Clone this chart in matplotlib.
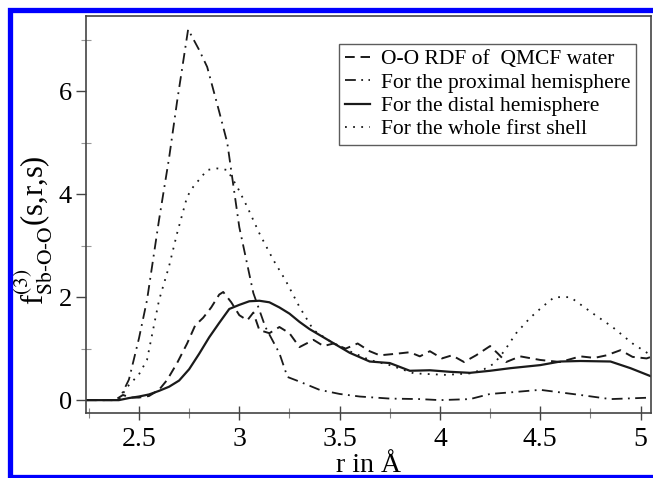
import numpy as np
import matplotlib
matplotlib.use("Agg")
import matplotlib.pyplot as plt
from matplotlib.lines import Line2D

plt.rcParams["font.family"] = ["Liberation Serif", "DejaVu Serif"]
plt.rcParams["mathtext.fontset"] = "stix"

# O-O RDF of QMCF water (dashed)
r_rdf = [2.24, 2.38, 2.42, 2.46, 2.50, 2.55, 2.60, 2.64, 2.69, 2.74, 2.78, 2.82, 2.86,
         2.90, 2.92, 2.96, 3.00, 3.04, 3.07, 3.10, 3.15, 3.20, 3.25, 3.30, 3.37, 3.42,
         3.47, 3.53, 3.59, 3.65, 3.70, 3.78, 3.85, 3.90, 3.95, 4.01, 4.06, 4.12, 4.18,
         4.25, 4.29, 4.33, 4.40, 4.50, 4.60, 4.70, 4.77, 4.83, 4.90, 4.96, 5.03, 5.06]
g_rdf = [0.0, 0.0, 0.1, 0.05, 0.05, 0.08, 0.2, 0.39, 0.72, 1.1, 1.45, 1.6, 1.8,
         2.05, 2.1, 1.9, 1.65, 1.55, 1.7, 1.36, 1.3, 1.42, 1.3, 1.03, 1.17, 1.05,
         1.1, 1.0, 1.1, 0.95, 0.87, 0.9, 0.93, 0.85, 0.95, 0.81, 0.87, 0.74, 0.87,
         1.05, 0.9, 0.74, 0.85, 0.78, 0.74, 0.85, 0.82, 0.87, 0.97, 0.84, 0.81, 0.85]

# proximal hemisphere (dash-dot)
r_prox = [2.24, 2.40, 2.45, 2.50, 2.54, 2.60, 2.65, 2.69, 2.745, 2.80, 2.84, 2.90,
          2.94, 3.00, 3.07, 3.13, 3.20, 3.24, 3.30, 3.40, 3.50, 3.60, 3.75, 3.90,
          4.00, 4.15, 4.25, 4.35, 4.50, 4.60, 4.70, 4.85, 5.06]
f_prox = [0.0, 0.0, 0.4, 1.2, 1.94, 3.5, 4.7, 5.8, 7.2, 6.8, 6.47, 5.6,
          5.0, 3.36, 2.08, 1.42, 0.91, 0.45, 0.36, 0.2, 0.12, 0.07, 0.03, 0.02,
          0.0, 0.02, 0.12, 0.15, 0.2, 0.15, 0.1, 0.02, 0.05]

# distal hemisphere (solid)
r_dist = [2.24, 2.40, 2.45, 2.50, 2.55, 2.60, 2.65, 2.70, 2.75, 2.80, 2.85, 2.90,
          2.95, 3.00, 3.05, 3.10, 3.15, 3.20, 3.25, 3.30, 3.35, 3.45, 3.55, 3.65,
          3.75, 3.85, 3.95, 4.05, 4.15, 4.25, 4.35, 4.50, 4.60, 4.70, 4.85, 4.95, 5.06]
f_dist = [0.0, 0.0, 0.04, 0.07, 0.11, 0.18, 0.26, 0.38, 0.6, 0.9, 1.22, 1.5,
          1.77, 1.85, 1.92, 1.93, 1.9, 1.8, 1.68, 1.52, 1.38, 1.15, 0.92, 0.75,
          0.72, 0.57, 0.58, 0.55, 0.53, 0.57, 0.62, 0.68, 0.75, 0.76, 0.75, 0.62, 0.45]

# whole first shell (dotted)
r_shell = [2.24, 2.40, 2.44, 2.50, 2.54, 2.60, 2.65, 2.69, 2.74, 2.77, 2.84, 2.89,
           2.94, 2.99, 3.04, 3.10, 3.17, 3.23, 3.30, 3.37, 3.45, 3.55, 3.65, 3.75,
           3.87, 4.03, 4.15, 4.22, 4.27, 4.32, 4.38, 4.45, 4.51, 4.57, 4.65, 4.76,
           4.86, 4.96, 5.06]
f_shell = [0.0, 0.0, 0.25, 0.5, 0.78, 1.94, 2.6, 3.24, 3.95, 4.14, 4.47, 4.5,
           4.47, 4.14, 3.75, 3.24, 2.72, 2.33, 1.81, 1.36, 1.15, 0.95, 0.78, 0.68,
           0.52, 0.49, 0.52, 0.6, 0.71, 0.95, 1.3, 1.6, 1.81, 2.0, 2.0, 1.69,
           1.42, 1.1, 0.85]

W, H = 653, 478
fig = plt.figure(figsize=(W / 100, H / 100), dpi=100)
ax = fig.add_axes([86 / W, 1 - 413 / H, (651 - 86) / W, (413 - 16) / H])

ink = "#1a1a1a"
ax.plot(r_rdf, g_rdf, color=ink, lw=1.4, ls=(0, (5, 3)), label="O-O RDF of  QMCF water")
ax.plot(r_prox, f_prox, color=ink, lw=1.3, ls=(0, (6, 3, 1, 3)), label="For the proximal hemisphere")
ax.plot(r_dist, f_dist, color=ink, lw=1.6, ls="-", label="For the distal hemisphere")
ax.plot(r_shell, f_shell, color=ink, lw=1.3, ls=(0, (1, 3.5)), label="For the whole first shell")

ax.set_xlim(2.236, 5.052)
ax.set_ylim(-0.25, 7.46)
ax.set_xticks(np.arange(2.5, 5.01, 0.5))
ax.set_xticklabels(["2.5", "3", "3.5", "4", "4.5", "5"])
ax.set_xticks(np.arange(2.25, 5.01, 0.5), minor=True)
ax.set_yticks([0, 2, 4, 6])
ax.set_yticks([1, 3, 5, 7], minor=True)

for s in ax.spines.values():
    s.set_color("#444444")
    s.set_linewidth(1.2)

ax.tick_params(axis="x", which="major", direction="inout", length=10, width=1.0,
               color="#444444", labelsize=20, pad=5)
ax.tick_params(axis="x", which="minor", direction="inout", length=7, width=0.8, color="#888888")
ax.tick_params(axis="y", which="major", direction="out", length=7, width=1.0,
               color="#444444", labelsize=19, pad=3)
ax.tick_params(axis="y", which="minor", direction="inout", length=7, width=0.8, color="#999999")

ax.set_xlabel("r in Å", fontsize=20, labelpad=1)
ax.set_ylabel(r"f$^{(3)}_{\mathrm{Sb\text{-}O\text{-}O}}$(s,r,s)", fontsize=22)
ax.yaxis.set_label_coords(-0.055, 0.46)

leg = ax.legend(loc="upper right", bbox_to_anchor=(636 / W, 1 - 44 / H),
                bbox_transform=fig.transFigure, fontsize=15.5, frameon=True, fancybox=False,
                handlelength=1.2, handletextpad=0.5, labelspacing=0.15, borderpad=0.25,
                borderaxespad=0)
leg.get_frame().set_edgecolor("#333333")
leg.get_frame().set_linewidth(1.0)

# blue frame around the figure
fig.add_artist(Line2D([W + 5, 10, 10, W + 5],
                      [H - 9.5, H - 9.5, H - 478.5 + 2, H - 478.5 + 2],
                      transform=None, color="#0000ff", lw=3.8, solid_joinstyle="miter"))

fig.savefig("out.png", dpi=100)
